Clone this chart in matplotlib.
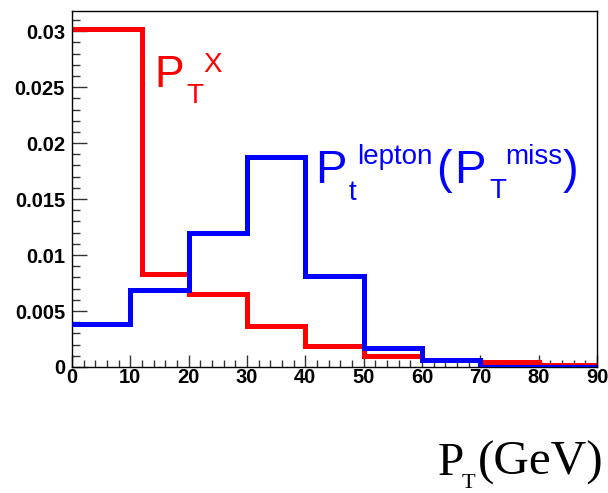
import numpy as np
import matplotlib
matplotlib.use("Agg")
import matplotlib.pyplot as plt
from matplotlib.ticker import MultipleLocator, FuncFormatter

# bin edges (GeV) and normalised contents
red_edges = [0, 12, 20, 30, 40, 50, 60, 70, 80, 90]
red_vals = [0.0302, 0.0083, 0.0065, 0.0037, 0.0019, 0.0010, 0.0006, 0.00045, 0.0002]
blue_edges = [0, 10, 20, 30, 40, 50, 60, 70, 80, 90]
blue_vals = [0.0038, 0.0069, 0.0120, 0.0188, 0.0081, 0.0017, 0.0006, 0.0, 0.0]

W, H = 608, 493
fig = plt.figure(figsize=(W / 100, H / 100), dpi=100)
ax = fig.add_axes([72 / W, 1 - 367 / H, (597 - 72) / W, (367 - 11) / H])


def px(x, y):
    # pixel position (from top-left) -> figure fraction
    return x / W, 1 - y / H


ax.stairs(red_vals, red_edges, baseline=None, color="#ff0000", lw=3.6, zorder=2)
ax.stairs(blue_vals, blue_edges, baseline=None, color="#0000ff", lw=3.6, zorder=3)

ax.set_xlim(0, 90)
ax.set_ylim(0, 0.0318)

ax.xaxis.set_major_locator(MultipleLocator(10))
ax.xaxis.set_minor_locator(MultipleLocator(2))
ax.yaxis.set_major_locator(MultipleLocator(0.005))
ax.yaxis.set_minor_locator(MultipleLocator(0.001))
ax.yaxis.set_major_formatter(FuncFormatter(lambda v, p: "%g" % round(v, 4)))

tick_font = dict(family="Liberation Sans", weight="bold", size=14.5)
ax.tick_params(axis="y", which="major", direction="in", length=11, width=1,
               color="#333333", pad=5)
ax.tick_params(axis="y", which="minor", direction="in", length=6, width=1,
               color="#333333")
ax.tick_params(axis="x", which="major", direction="in", length=9, width=1,
               color="#333333", pad=1)
ax.tick_params(axis="x", which="minor", direction="in", length=5, width=1,
               color="#333333")
for lab in ax.get_xticklabels() + ax.get_yticklabels():
    lab.set_fontproperties(matplotlib.font_manager.FontProperties(**tick_font))
for s in ax.spines.values():
    s.set_linewidth(1)
    s.set_color("black")

sans = "Liberation Sans"
serif = "Liberation Serif"

# red label: P_T^X
fig.text(*px(154, 87), "P", color="#ff0000", family=sans, size=32, va="baseline")
fig.text(*px(186, 103), "T", color="#ff0000", family=sans, size=20, va="baseline")
fig.text(*px(203, 72), "X", color="#ff0000", family=sans, size=20, va="baseline")

# blue label: P_t^lepton (P_T^miss)
blue = "#0000ff"
fig.text(*px(315, 183), "P", color=blue, family=sans, size=34, va="baseline")
fig.text(*px(349, 200), "t", color=blue, family=sans, size=20, va="baseline")
fig.text(*px(357, 164), "lepton", color=blue, family=sans, size=20, va="baseline")
fig.text(*px(436, 183), "(", color=blue, family=sans, size=34, va="baseline")
fig.text(*px(454, 183), "P", color=blue, family=sans, size=34, va="baseline")
fig.text(*px(489, 198), "T", color=blue, family=sans, size=20, va="baseline")
fig.text(*px(505, 164), "miss", color=blue, family=sans, size=20, va="baseline")
fig.text(*px(563, 183), ")", color=blue, family=sans, size=34, va="baseline")

# x-axis title
fig.text(*px(438, 475), "P", color="black", family=serif, size=34, va="baseline")
fig.text(*px(462, 488), "T", color="black", family=serif, size=16, va="baseline")
fig.text(*px(478, 475), "(GeV)", color="black", family=serif, size=35.5, va="baseline")

fig.savefig("out.png", dpi=100)
